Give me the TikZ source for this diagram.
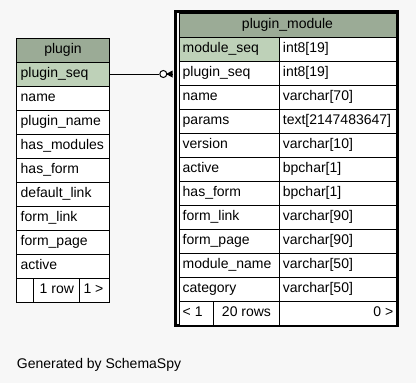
\documentclass[tikz,border=0pt]{standalone}
\usepackage{fontspec}
\setmainfont{Liberation Sans}
\definecolor{bgc}{HTML}{F7F7F7}
\definecolor{hdr}{HTML}{9BAB96}
\definecolor{pkc}{HTML}{BED1B8}
\newcommand{\tabfont}{\fontsize{14}{16}\selectfont}
\tikzset{
  cell/.style={draw=black, line width=1pt, fill=white, minimum height=24pt, inner sep=0pt, anchor=north west},
  hdrcell/.style={cell, fill=hdr},
  pkcell/.style={cell, fill=pkc},
  txt/.style={anchor=base west, inner sep=0pt, font=\tabfont},
  ctxt/.style={anchor=base, inner sep=0pt, font=\tabfont},
  rtxt/.style={anchor=base east, inner sep=0pt, font=\tabfont},
}
\begin{document}
\begin{tikzpicture}[x=1pt,y=-1pt]
\useasboundingbox (0,0) rectangle (416,383);
\fill[bgc] (0,0) rectangle (416,383);

% ---------- plugin table ----------
\node[hdrcell, minimum width=93pt] (ph) at (16,37.5) {};
\node[ctxt] at ([yshift=-3.8pt]ph.center) {plugin};
\foreach \t [count=\i] in {plugin\_seq,name,plugin\_name,has\_modules,has\_form,default\_link,form\_link,form\_page,active}{
  \node[cell, minimum width=93pt] (p\i) at (16,{61.5+24*(\i-1)}) {};
  \node[txt] at ([xshift=4.5pt,yshift=-3.8pt]p\i.west) {\t};
}
\node[pkcell, minimum width=93pt] (pseq) at (16,61.5) {};
\node[txt] at ([xshift=4.5pt,yshift=-3.8pt]pseq.west) {plugin\_seq};
\node[cell, minimum width=17.3pt] (pf1) at (16,277.5) {};
\node[cell, minimum width=46pt] (pf2) at (33.3,277.5) {};
\node[cell, minimum width=29.7pt] (pf3) at (79.3,277.5) {};
\node[ctxt] at ([yshift=-3.8pt]pf2.center) {1 row};
\node[txt] at ([xshift=4pt,yshift=-3.8pt]pf3.west) {1 >};

% ---------- plugin_module table ----------
\node[draw=black, line width=3pt, minimum width=222pt, minimum height=314.5pt, inner sep=0pt] (frame) at (286.5,168.25) {};
\node[hdrcell, minimum width=217pt] (mh) at (178.5,12.5) {};
\node[ctxt] at ([yshift=-3.8pt]mh.center) {plugin\_module};
\foreach \a/\b [count=\i] in {module\_seq/{int8[19]},plugin\_seq/{int8[19]},name/{varchar[70]},params/{text[2147483647]},version/{varchar[10]},active/{bpchar[1]},has\_form/{bpchar[1]},form\_link/{varchar[90]},form\_page/{varchar[90]},module\_name/{varchar[50]},category/{varchar[50]}}{
  \node[cell, minimum width=100.2pt] (ma\i) at (178.5,{36.5+24*(\i-1)}) {};
  \node[cell, minimum width=116.8pt] (mb\i) at (278.7,{36.5+24*(\i-1)}) {};
  \node[txt] at ([xshift=4pt,yshift=-3.8pt]mb\i.west) {\b};
}
\node[pkcell, minimum width=100.2pt] (mseq) at (178.5,36.5) {};
\foreach \a [count=\i] in {module\_seq,plugin\_seq,name,params,version,active,has\_form,form\_link,form\_page,module\_name,category}{
  \node[txt] at ([xshift=4pt,yshift=-3.8pt]ma\i.west) {\a};
}
\node[cell, minimum width=34.8pt] (mf1) at (178.5,300.5) {};
\node[cell, minimum width=65.4pt] (mf2) at (213.3,300.5) {};
\node[cell, minimum width=116.8pt] (mf3) at (278.7,300.5) {};
\node[txt] at ([xshift=4pt,yshift=-3.8pt]mf1.west) {< 1};
\node[ctxt] at ([yshift=-3.8pt]mf2.center) {20 rows};
\node[rtxt] at ([xshift=-3pt,yshift=-3.8pt]mf3.east) {0 >};

% ---------- relationship ----------
\node[draw=black, fill=white, circle, line width=1pt, minimum size=7pt, inner sep=0pt] (dot) at (163.3,74) {};
\coordinate (crow) at (frame.west |- pseq.east);
\draw[line width=1pt] (pseq.east) -- (dot.west);
\draw[line width=1pt] (dot.east) -- ([xshift=-1.5pt]crow);
\fill[black] ([xshift=-8pt]crow) -- ([xshift=-1.5pt,yshift=3.5pt]crow) -- ([xshift=-1.5pt,yshift=-3.5pt]crow) -- cycle;

% ---------- footer ----------
\node[txt] (gen) at (16.7,368.3) {Generated by SchemaSpy};
\end{tikzpicture}
\end{document}
